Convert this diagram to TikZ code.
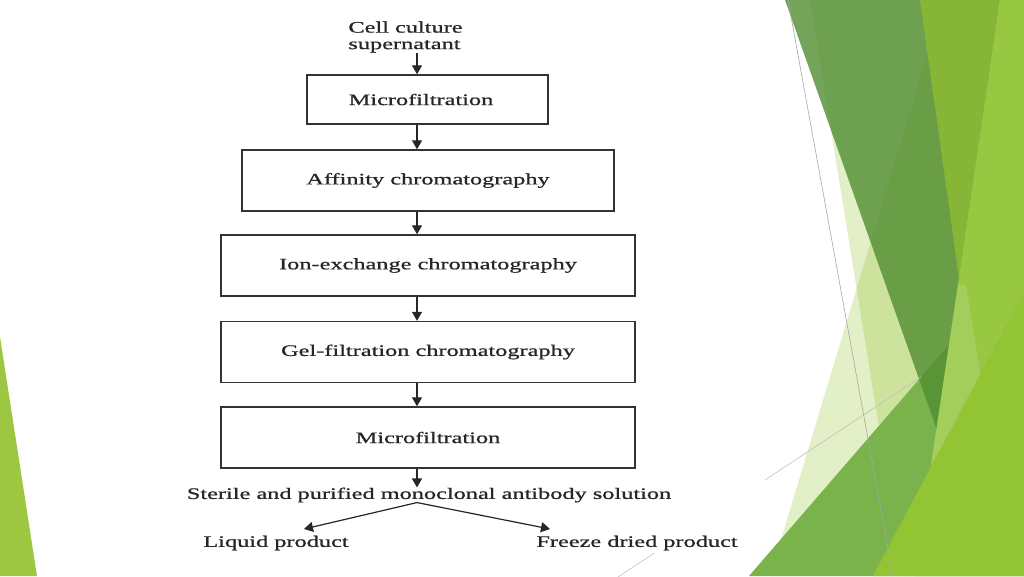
\documentclass[tikz,border=0pt]{standalone}
\usepackage{fontspec}
\usepackage{graphicx}
\setmainfont{Liberation Serif}
\newfontfamily\flowfont{Liberation Serif}[FakeBold=0.7]
\usetikzlibrary{arrows.meta}
\definecolor{facetpale}{RGB}{144,194,38}
\definecolor{facetdark}{RGB}{81,141,49}
\definecolor{facetolive}{RGB}{135,182,55}
\definecolor{facetlight}{RGB}{152,199,66}
\definecolor{facetwedge}{RGB}{163,206,92}
\definecolor{facetmid}{RGB}{122,179,76}
\definecolor{facetbright}{RGB}{147,196,51}
\definecolor{facetleft}{RGB}{157,199,65}
\newcommand\wtxt[1]{\scalebox{1.52}[1]{#1}}
\begin{document}
\begin{tikzpicture}[x=1pt,y=-1pt,font=\flowfont\fontsize{16}{16.5}\selectfont,
  flowbox/.style={draw=black!80,line width=1.4pt,minimum width=#1,minimum height=61pt,inner sep=0pt,text=black!85},
  lbl/.style={inner sep=0pt,text=black!85},
  flowarrow/.style={draw=black!85,line width=1.2pt,-{Triangle[width=10pt,length=9pt]}}]
\useasboundingbox (0,0) rectangle (1024,576);
\fill[facetleft] (0,337) -- (37,576) -- (0,576) -- cycle;
\fill[facetpale,opacity=.26] (810,0) -- (1024,0) -- (1024,576) -- (903,576) -- cycle;
\fill[facetpale,opacity=.26] (927,55) -- (1010,576) -- (770,576) -- cycle;
\fill[facetmid] (749,576) -- (1024,258) -- (1024,576) -- cycle;
\fill[facetdark,opacity=.8] (785,0) -- (1000,0) -- (937,430) -- cycle;
\fill[facetolive] (920,0) -- (1000,0) -- (960,285) -- cycle;
\fill[facetlight] (1000,0) -- (1024,0) -- (1024,576) -- (915,576) -- cycle;
\fill[facetwedge] (958,285) -- (966,285) -- (981,377) -- (931,465) -- cycle;
\fill[facetbright] (873,576) -- (1024,292) -- (1024,576) -- cycle;
\draw[black!35,line width=.6pt] (788,0) -- (893,576);
\draw[black!25,line width=.6pt] (921,377) -- (618,577);
\fill[white] (180,0) rectangle (765,553);
\coordinate (axis) at (417,0);
\node[lbl,align=left] (src) at (405.5,37) {\wtxt{Cell culture}\\\wtxt{supernatant}};
\node[flowbox=241pt,minimum height=49pt] (mf1) at (427.5,99.5) {\wtxt{Microfiltration}\kern13pt};
\node[flowbox=372pt] (affin) at (428,180.5) {\wtxt{Affinity chromatography}};
\node[flowbox=414pt] (ionex) at (428,265.5) {\wtxt{Ion-exchange chromatography}};
\node[flowbox=414pt] (gelf) at (428,352) {\wtxt{Gel-filtration chromatography}};
\node[flowbox=414pt] (mf2) at (428,437.5) {\wtxt{Microfiltration}};
\node[lbl] (sterile) at (429,495) {\wtxt{Sterile and purified monoclonal antibody solution}};
\node[lbl] (liquid) at (276,543) {\wtxt{Liquid product}};
\node[lbl] (freeze) at (637,543) {\wtxt{Freeze dried product}};
\coordinate (liqend) at (304,529);
\coordinate (frzend) at (550,529);
\draw[flowarrow] (src.south -| axis) -- (mf1.north -| axis);
\draw[flowarrow] (mf1.south -| axis) -- (affin.north -| axis);
\draw[flowarrow] (affin.south -| axis) -- (ionex.north -| axis);
\draw[flowarrow] (ionex.south -| axis) -- (gelf.north -| axis);
\draw[flowarrow] (gelf.south -| axis) -- (mf2.north -| axis);
\draw[flowarrow] (mf2.south -| axis) -- (sterile.north -| axis);
\draw[flowarrow] (sterile.south -| axis) -- (liqend);
\draw[flowarrow] (sterile.south -| axis) -- (frzend);
\end{tikzpicture}
\end{document}
